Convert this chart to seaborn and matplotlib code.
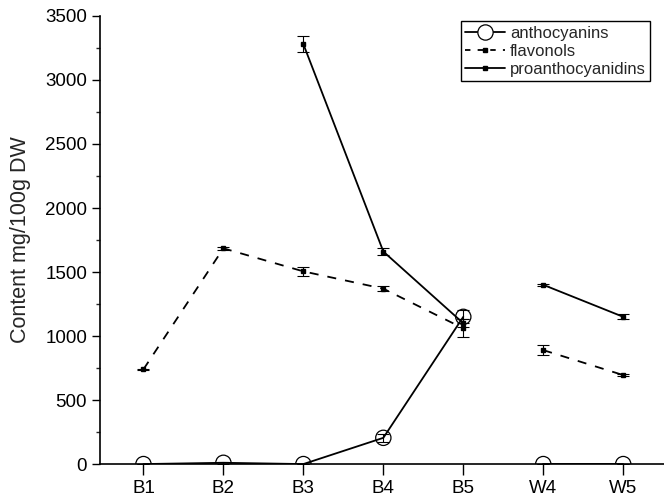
import numpy as np
import pandas as pd
import matplotlib
matplotlib.use("Agg")
import matplotlib.pyplot as plt
import seaborn as sns
from matplotlib.lines import Line2D
from matplotlib.ticker import MultipleLocator

# data
samples = ["B1", "B2", "B3", "B4", "B5", "W4", "W5"]
groups = ["B", "B", "B", "B", "B", "W", "W"]
anthocyanins = [0, 10, 0, 205, 1150, 0, 0]
anthocyanins_err = [0, 10, 0, 30, 50, 0, 0]
flavonols = [740, 1685, 1505, 1370, 1060, 890, 695]
flavonols_err = [5, 10, 35, 20, 70, 40, 10]
proanthocyanidins = [np.nan, np.nan, 3280, 1660, 1100, 1400, 1150]
proanthocyanidins_err = [np.nan, np.nan, 60, 30, 30, 10, 20]

series = {
    "anthocyanins": (anthocyanins, anthocyanins_err),
    "flavonols": (flavonols, flavonols_err),
    "proanthocyanidins": (proanthocyanidins, proanthocyanidins_err),
}

rows = []
for name, (vals, errs) in series.items():
    for i, s in enumerate(samples):
        rows.append({"series": name, "sample": s, "pos": i, "group": groups[i],
                     "value": vals[i], "err": errs[i]})
df = pd.DataFrame(rows).dropna()

sns.set_style("ticks")
plt.rcParams["font.family"] = ["Liberation Sans", "DejaVu Sans"]

fig = plt.figure(figsize=(6.64, 4.99), dpi=100)
ax = fig.add_axes([0.151, 0.07, 0.849, 0.898])

# draw each series, B and W groups as separate segments
for name in series:
    sub = df[df["series"] == name]
    for g, part in sub.groupby("group"):
        sns.lineplot(data=part, x="pos", y="value", ax=ax, color="black",
                     lw=1.3, linestyle="--" if name == "flavonols" else "-",
                     dashes=False, legend=False, errorbar=None)
    ax.errorbar(sub["pos"], sub["value"], yerr=sub["err"], fmt="none",
                ecolor="black", elinewidth=0.8, capsize=4, capthick=0.8, zorder=3)
    if name == "anthocyanins":
        sns.scatterplot(data=sub, x="pos", y="value", ax=ax, marker="o", s=121,
                        facecolor="none", edgecolor="black", linewidth=0.9,
                        zorder=4, legend=False)
    else:
        ax.plot(sub["pos"], sub["value"], "s", ms=3, color="black", zorder=4)

for ln in ax.get_lines():
    if ln.get_linestyle() == "--":
        ln.set_dashes([5, 5])

ax.set_xlim(-0.54, 6.51)
ax.set_ylim(0, 3500)
ax.set_xticks(range(len(samples)))
ax.set_xticklabels(samples)
ax.yaxis.set_major_locator(MultipleLocator(500))
ax.yaxis.set_minor_locator(MultipleLocator(250))
ax.tick_params(axis="both", which="major", labelsize=13.5, length=6, width=1,
               color="black", labelcolor="black", direction="out")
ax.tick_params(axis="x", which="major", length=8)
ax.tick_params(axis="y", which="minor", length=3, width=1)
ax.set_xlabel("")
ax.set_ylabel("Content mg/100g DW", fontsize=15.5, labelpad=10)
sns.despine(ax=ax)
for sp in ["left", "bottom"]:
    ax.spines[sp].set_color("black")
    ax.spines[sp].set_linewidth(1.2)
    ax.spines[sp].set_zorder(5)

handles = [
    Line2D([], [], color="black", lw=1.3, marker="o", ms=11, mfc="white",
           mec="black", mew=0.9),
    Line2D([], [], color="black", lw=1.3, ls=(0, (3, 4)), marker="s", ms=3),
    Line2D([], [], color="black", lw=1.3, marker="s", ms=3),
]
leg = ax.legend(handles, list(series.keys()), loc="upper right",
                bbox_to_anchor=(0.975, 0.988), fontsize=12, frameon=True,
                fancybox=False, edgecolor="black", framealpha=1,
                handlelength=2.4, handletextpad=0.3, borderpad=0.25,
                labelspacing=0.2, borderaxespad=0)
leg.get_frame().set_linewidth(1.0)

fig.savefig("out.png", dpi=100)
